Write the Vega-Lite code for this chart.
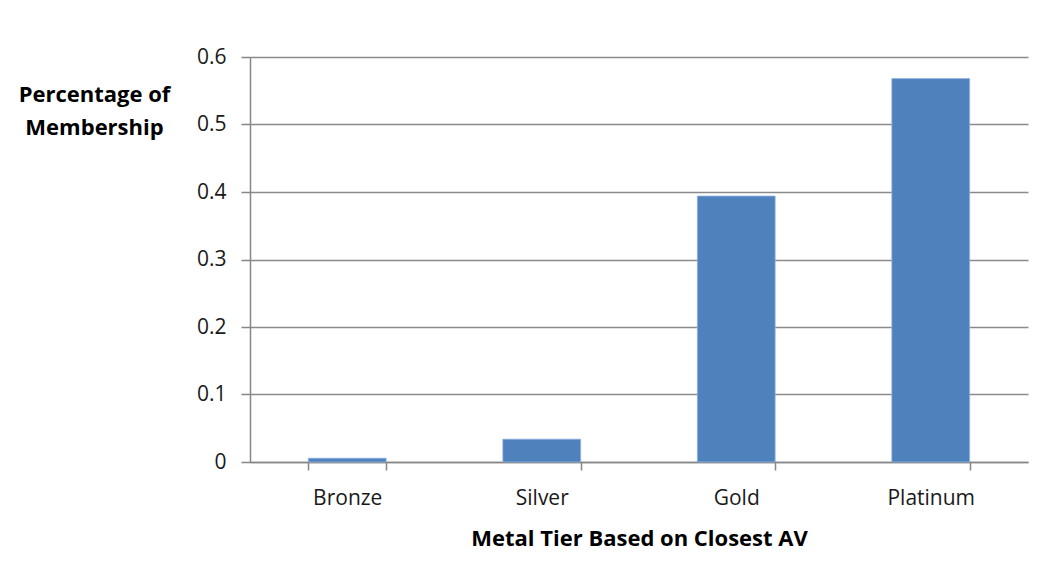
{
  "$schema": "https://vega.github.io/schema/vega-lite/v6.json",
  "autosize": "none",
  "width": 778,
  "height": 405,
  "padding": {"left": 250, "top": 57, "right": 28, "bottom": 113},
  "background": "white",
  "config": {
    "view": {"stroke": null},
    "font": "Open Sans"
  },
  "data": {
    "values": [
      {"tier": "Bronze", "pct": 0.0056},
      {"tier": "Silver", "pct": 0.0338},
      {"tier": "Gold", "pct": 0.394},
      {"tier": "Platinum", "pct": 0.568}
    ]
  },
  "mark": {"type": "bar", "color": "#4F81BD", "stroke": "#8DB3E2", "strokeWidth": 0.8},
  "encoding": {
    "x": {
      "field": "tier",
      "type": "nominal",
      "sort": ["Bronze", "Silver", "Gold", "Platinum"],
      "scale": {"paddingInner": 0.6, "paddingOuter": 0.3},
      "axis": {
        "title": "Metal Tier Based on Closest AV",
        "titleFont": "Open Sans",
        "titleFontSize": 22,
        "titleFontWeight": "bold",
        "titleColor": "#000000",
        "titleBaseline": "alphabetic",
        "titleY": 83,
        "labelAngle": 0,
        "labelFont": "Open Sans",
        "labelFontSize": 21,
        "labelColor": "#1a1a1a",
        "labelBaseline": "alphabetic",
        "labelPadding": 34,
        "tickBand": "extent",
        "tickSize": 8,
        "tickColor": "#868686",
        "tickWidth": 1.5,
        "domainColor": "#868686",
        "domainWidth": 1.5,
        "grid": false
      }
    },
    "y": {
      "field": "pct",
      "type": "quantitative",
      "scale": {"domain": [0, 0.6], "nice": false},
      "axis": {
        "title": ["Percentage of", "Membership"],
        "titleFont": "Open Sans",
        "titleFontSize": 22,
        "titleFontWeight": "bold",
        "titleColor": "#000000",
        "titleAngle": 0,
        "titleAlign": "center",
        "titleBaseline": "alphabetic",
        "titleX": -156,
        "titleY": 44,
        "titleLineHeight": 33,
        "values": [0, 0.1, 0.2, 0.3, 0.4, 0.5, 0.6],
        "format": ".1~f",
        "labelFont": "Open Sans",
        "labelFontSize": 21,
        "labelColor": "#1a1a1a",
        "labelPadding": 15,
        "tickSize": 9,
        "tickColor": "#868686",
        "tickWidth": 1.5,
        "domainColor": "#868686",
        "domainWidth": 1.5,
        "grid": true,
        "gridColor": "#8a8a8a",
        "gridWidth": 1.5
      }
    }
  }
}
